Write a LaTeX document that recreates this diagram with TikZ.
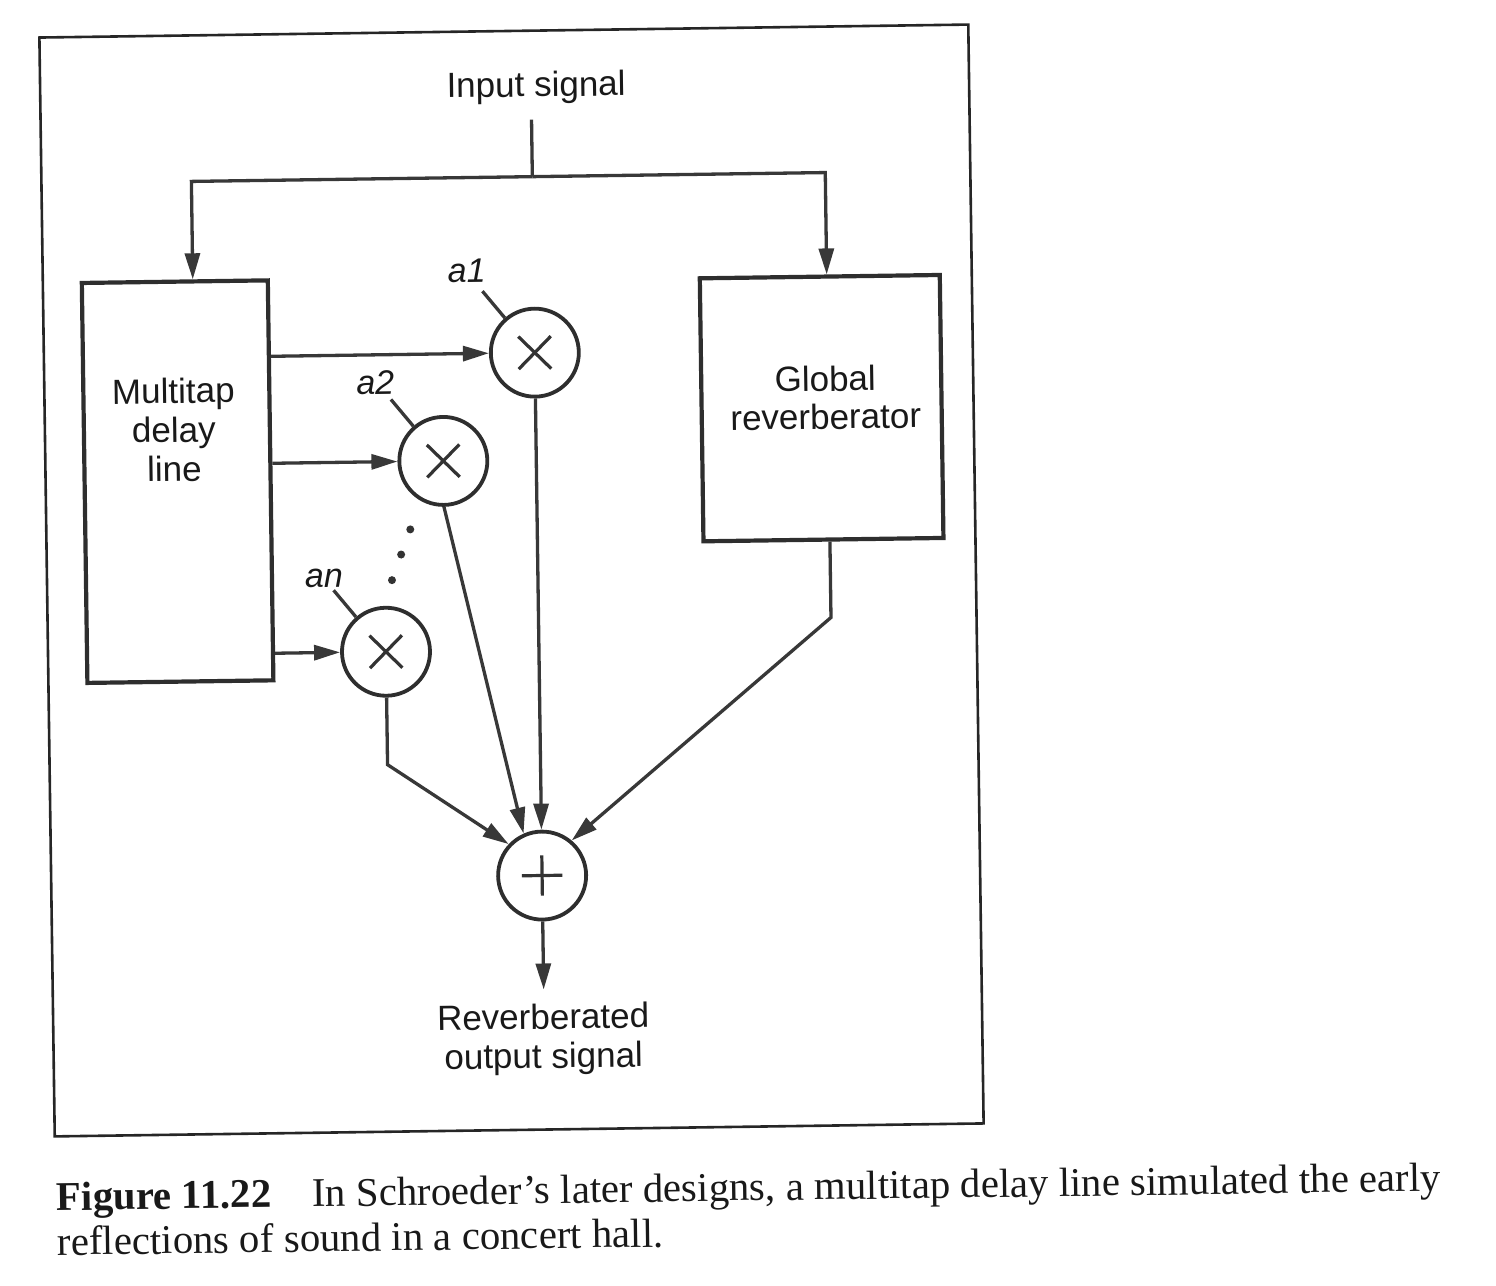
\documentclass[tikz,border=0pt]{standalone}
\usepackage{fontspec}
\setmainfont{Liberation Serif}
\newfontfamily\diagfont{Liberation Sans}
\usetikzlibrary{arrows.meta,calc}
\begin{document}
\begin{tikzpicture}[x=1pt,y=-1pt,
  conn/.style={line width=3.3pt, draw=black!78},
  arr/.style={conn,-{Triangle[length=26pt,width=15pt]}},
  blk/.style={draw=black!82,line width=4.2pt,rectangle,inner sep=0pt},
  op/.style={draw=black!82,line width=3.8pt,circle,minimum size=88pt,inner sep=0pt},
  lbl/.style={font=\diagfont\fontsize{35}{39}\selectfont,align=center,text=black!90,inner sep=0pt},
  coef/.style={font=\diagfont\itshape\fontsize{34}{38}\selectfont,text=black!90,inner sep=0pt},
  capt/.style={font=\fontsize{40.8}{46}\selectfont,text=black!90,inner sep=0pt,anchor=base west},
  sym/.style={line width=3.2pt,draw=black!80}
]
\useasboundingbox (0,0) rectangle (1496,1285);
\begin{scope}[rotate around={0.8:(510,580)}, transform shape]
  % frame
  \draw[line width=2.6pt,draw=black!85] (47,31) rectangle (976,1130);

  % input
  \node[lbl] (in) at (543,88) {Input signal};
  \coordinate (inTop) at (538,120);
  \coordinate (junc) at (538,177);

  % blocks
  \node[blk,minimum width=186pt,minimum height=400pt] (mtd) at (179,477) {};
  \node[lbl] (mtdtxt) at (176,425) {Multitap\\delay\\line};
  \node[blk,minimum width=240pt,minimum height=263pt] (gr) at (824,412.5) {};
  \node[lbl,font=\diagfont\fontsize{35}{38}\selectfont] (grtxt) at (828,402) {Global\\reverberator};

  % operators
  \node[op] (m1) at (538,353) {};
  \node[op] (m2) at (445,460) {};
  \node[op] (mn) at (385,650) {};
  \node[op] (add) at (538,876) {};

  % symbols
  \foreach \m in {m1,m2,mn}{
    \draw[sym] ($(\m.center)!0.5!(\m.45)$) -- ($(\m.center)!0.5!(\m.225)$);
    \draw[sym] ($(\m.center)!0.5!(\m.135)$) -- ($(\m.center)!0.5!(\m.315)$);
  }
  \draw[sym] ($(add.center)!0.44!(add.west)$) -- ($(add.center)!0.44!(add.east)$);
  \draw[sym] ($(add.center)!0.44!(add.north)$) -- ($(add.center)!0.44!(add.south)$);

  % coefficient labels
  \node[coef] (l1) at (471,270) {a1};
  \node[coef] (l2) at (378,381) {a2};
  \node[coef] (ln) at (324,576) {an};
  \draw[conn] ([shift={(-22,-27)}]m1.130) -- (m1.130);
  \draw[conn] ([shift={(-22,-27)}]m2.130) -- (m2.130);
  \draw[conn] ([shift={(-22,-27)}]mn.130) -- (mn.130);

  % dots
  \fill[black!80] (411,528) circle (4pt);
  \fill[black!80] (401.5,553) circle (4pt);
  \fill[black!80] (392,578.5) circle (4pt);

  % input branches
  \draw[conn] (inTop) -- (junc);
  \draw[arr] (junc) -| ($(mtd.north)+(18,0)$);
  \draw[arr] (junc) -| ($(gr.north)+(7,0)$);

  % taps
  \draw[arr] (mtd.east |- m1) -- (m1);
  \draw[arr] (mtd.east |- m2) -- (m2);
  \draw[arr] (mtd.east |- mn) -- (mn);

  % to adder
  \draw[arr] (m1.south) -- (add.north);
  \draw[arr] (m2.south) -- (add.113);
  \coordinate (cn) at (385,763);
  \draw[arr] (mn.south) -- (cn) -- (add.136);
  \coordinate (cg) at (830.5,622);
  \draw[arr] ($(gr.south)+(6.5,0)$) -- (cg) -- (add.49);

  % output
  \coordinate (outTip) at (538,990);
  \draw[arr] (add.south) -- (outTip);
  \node[lbl] (out) at (537,1040) {Reverberated\\output signal};

  % caption
  \node[capt] (cap1) at (48,1204) {\textbf{Figure 11.22}\quad In Schroeder’s later designs, a multitap delay line simulated the early};
  \node[capt] (cap2) at (48,1249) {reflections of sound in a concert hall.};
\end{scope}
\end{tikzpicture}
\end{document}
